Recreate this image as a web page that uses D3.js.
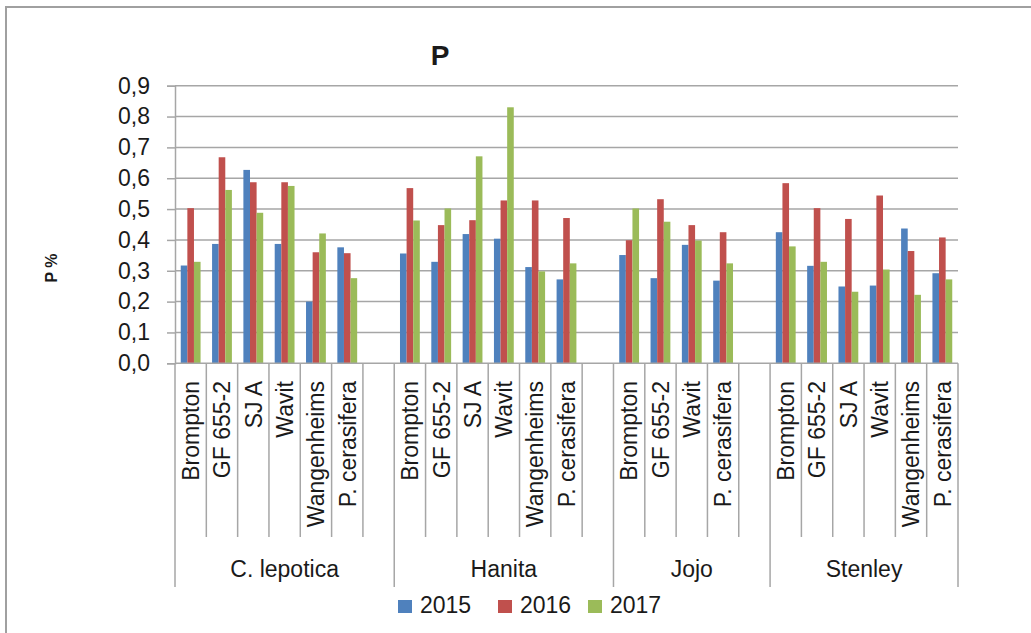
<!DOCTYPE html>
<html>
<head>
<meta charset="utf-8">
<script src="https://cdn.jsdelivr.net/npm/d3@7"></script>
<style>
  html, body { margin: 0; padding: 0; background: #fff; }
  svg text { font-family: "Liberation Sans", Arial, sans-serif; fill: #1a1a1a; }
</style>
</head>
<body>
<svg id="chart" width="1031" height="633"></svg>
<script>
// Phosphorus content (P %) by cultivar, rootstock and year
const cultivars = ["C. lepotica", "Hanita", "Jojo", "Stenley"];
const rootstocks = [
  ["Brompton", "GF 655-2", "SJ A", "Wavit", "Wangenheims", "P. cerasifera"],
  ["Brompton", "GF 655-2", "SJ A", "Wavit", "Wangenheims", "P. cerasifera"],
  ["Brompton", "GF 655-2", "Wavit", "P. cerasifera"],
  ["Brompton", "GF 655-2", "SJ A", "Wavit", "Wangenheims", "P. cerasifera"]
];
const years = ["2015", "2016", "2017"];
const p2015 = [
  0.317, 0.387, 0.627, 0.387, 0.200, 0.376,
  0.356, 0.329, 0.419, 0.404, 0.312, 0.272,
  0.351, 0.276, 0.384, 0.268,
  0.425, 0.316, 0.249, 0.252, 0.437, 0.292
];
const p2016 = [
  0.503, 0.668, 0.587, 0.587, 0.360, 0.357,
  0.568, 0.448, 0.464, 0.528, 0.528, 0.471,
  0.399, 0.532, 0.448, 0.425,
  0.584, 0.503, 0.468, 0.544, 0.364, 0.408
];
const p2017 = [
  0.329, 0.562, 0.488, 0.575, 0.421, 0.276,
  0.463, 0.502, 0.671, 0.830, 0.298, 0.324,
  0.502, 0.459, 0.398, 0.324,
  0.379, 0.329, 0.232, 0.304, 0.222, 0.272
];
const yTicks = [0, 0.1, 0.2, 0.3, 0.4, 0.5, 0.6, 0.7, 0.8, 0.9];
const colors = ["#4f81bd", "#c0504d", "#9bbb59"];

const svg = d3.select("#chart");
const gridColor = "#a6a6a6";

// Frame
svg.append("line").attr("x1", 6).attr("x2", 1031).attr("y1", 7).attr("y2", 7)
  .attr("stroke", "#a0a0a0").attr("stroke-width", 2);
svg.append("line").attr("x1", 6).attr("x2", 6).attr("y1", 6).attr("y2", 633)
  .attr("stroke", "#a0a0a0").attr("stroke-width", 2);

// Category slots: each cultivar's rootstocks plus an empty slot between cultivars
const series = [p2015, p2016, p2017];
const slots = [];
const rows = [];
let k = 0;
cultivars.forEach((c, gi) => {
  rootstocks[gi].forEach(r => {
    const key = c + "|" + r;
    slots.push(key);
    rows.push({ key, cultivar: c, rootstock: r, values: series.map(s => s[k]) });
    k++;
  });
  if (gi < cultivars.length - 1) slots.push(c + "|");
});

const plotLeft = 175, plotRight = 958, plotTop = 85.7, plotBottom = 363.3;
const x = d3.scaleBand().domain(slots).range([plotLeft, plotRight]).paddingInner(0).paddingOuter(0);
const x1 = d3.scaleBand().domain(years).range([0, x.bandwidth()]).paddingInner(0).paddingOuter(0.87);
const y = d3.scaleLinear().domain([0, 0.9]).range([plotBottom, plotTop]);
const fmt = v => d3.format(".1f")(v).replace(".", ",");

// Horizontal gridlines
svg.append("g").selectAll("line").data(yTicks.filter(t => t > 0)).join("line")
  .attr("x1", plotLeft).attr("x2", plotRight)
  .attr("y1", d => y(d)).attr("y2", d => y(d))
  .attr("stroke", gridColor).attr("stroke-width", 1.5);

// Y axis
const yAxis = svg.append("g").attr("transform", `translate(${plotLeft},0)`)
  .call(d3.axisLeft(y).tickValues(yTicks).tickFormat(fmt).tickSize(8).tickPadding(17));
yAxis.select(".domain").attr("stroke", gridColor).attr("stroke-width", 1.5);
yAxis.selectAll(".tick line").attr("stroke", gridColor).attr("stroke-width", 1.5);
yAxis.selectAll(".tick text").attr("font-size", 23).attr("fill", "#1a1a1a")
  .style("font-family", "'Liberation Sans', Arial, sans-serif");

// Bars
const barG = svg.append("g").selectAll("g").data(rows).join("g")
  .attr("transform", d => `translate(${x(d.key)},0)`);
barG.selectAll("rect").data(d => d.values.map((v, i) => ({ year: years[i], v, i }))).join("rect")
  .attr("x", d => x1(d.year))
  .attr("width", x1.bandwidth())
  .attr("y", d => y(d.v))
  .attr("height", d => y(0) - y(d.v))
  .attr("fill", d => colors[d.i]);

// X axis baseline
svg.append("line").attr("x1", plotLeft).attr("x2", plotRight).attr("y1", plotBottom).attr("y2", plotBottom)
  .attr("stroke", gridColor).attr("stroke-width", 1.5);

// Slot boundaries: long at cultivar edges, short between rootstocks
const groupEdges = new Set();
cultivars.forEach(c => {
  const members = slots.filter(s => s.startsWith(c + "|"));
  const x0 = x(members[0]);
  const xe = x(members[members.length - 1]) + x.bandwidth();
  groupEdges.add(x0.toFixed(2)); groupEdges.add(xe.toFixed(2));
});
const boundaries = slots.map(s => x(s)).concat([plotRight]);
const uniqueB = Array.from(new Set(boundaries.map(b => b.toFixed(2)))).map(Number);
svg.append("g").selectAll("line").data(uniqueB).join("line")
  .attr("x1", d => d).attr("x2", d => d)
  .attr("y1", plotBottom)
  .attr("y2", d => groupEdges.has(d.toFixed(2)) ? 587 : 537)
  .attr("stroke", gridColor).attr("stroke-width", 1.5);

// Rootstock labels (rotated)
svg.append("g").selectAll("text").data(rows).join("text")
  .attr("transform", d => `translate(${x(d.key) + x.bandwidth() / 2},381) rotate(-90)`)
  .attr("text-anchor", "end")
  .attr("dy", "0.36em")
  .attr("font-size", 23)
  .text(d => d.rootstock);

// Cultivar labels
svg.append("g").selectAll("text").data(cultivars).join("text")
  .attr("x", c => {
    const members = slots.filter(s => s.startsWith(c + "|"));
    return (x(members[0]) + x(members[members.length - 1]) + x.bandwidth()) / 2;
  })
  .attr("y", 577)
  .attr("text-anchor", "middle")
  .attr("font-size", 23)
  .text(c => c);

// Title and y-axis title
svg.append("text").attr("x", 440).attr("y", 65).attr("text-anchor", "middle")
  .attr("font-size", 28).attr("font-weight", "bold").text("P");
svg.append("text").attr("transform", "translate(51,268) rotate(-90)")
  .attr("text-anchor", "middle").attr("dy", "0.36em")
  .attr("font-size", 16).attr("font-weight", "bold").text("P %");

// Legend
const legendX = [398, 498, 588];
const legend = svg.append("g").selectAll("g").data(years).join("g")
  .attr("transform", (d, i) => `translate(${legendX[i]},600)`);
legend.append("rect").attr("width", 14).attr("height", 13).attr("fill", (d, i) => colors[i]);
legend.append("text").attr("x", 22).attr("y", 12.5).attr("font-size", 23).text(d => d);
</script>
</body>
</html>
